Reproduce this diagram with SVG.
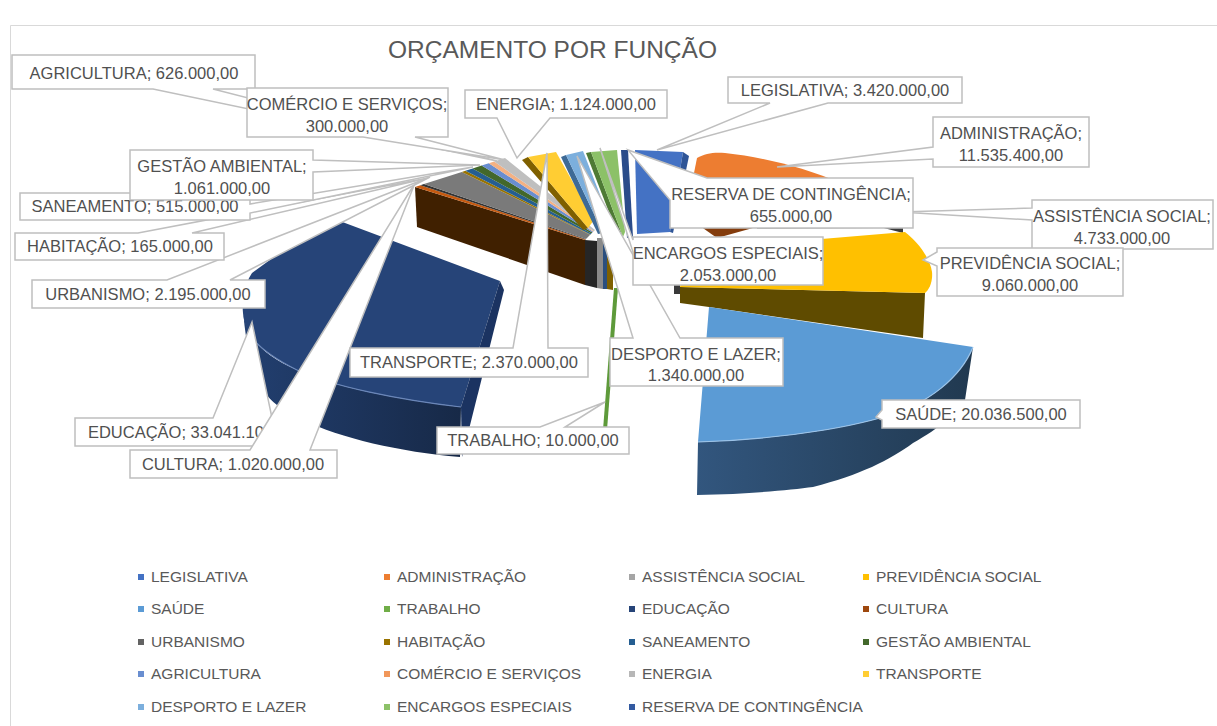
<svg xmlns="http://www.w3.org/2000/svg" width="1217" height="726" viewBox="0 0 1217 726">
<defs>
<style>
.co{fill:#fff;stroke:#BFBFBF;stroke-width:1.5;stroke-linejoin:miter}
.lt{font-family:'Liberation Sans',Arial,sans-serif;font-size:16.5px;fill:#505050;text-anchor:middle}
.lg{font-family:'Liberation Sans',Arial,sans-serif;font-size:15.5px;fill:#595959}
.ttl{font-family:'Liberation Sans',Arial,sans-serif;font-size:24.5px;fill:#595959}
.hl{fill:none;stroke-width:1.2}
</style>
<linearGradient id="eduSide" x1="0" y1="0" x2="1" y2="0"><stop offset="0" stop-color="#223F70"/><stop offset="1" stop-color="#172947"/></linearGradient>
<linearGradient id="sauSide" x1="0" y1="0" x2="1" y2="0"><stop offset="0" stop-color="#32567E"/><stop offset="1" stop-color="#213950"/></linearGradient>
</defs>
<rect width="1217" height="726" fill="#fff"/>
<path d="M10.5,726 V25.5 H1217" fill="none" stroke="#D9D9D9"/>
<text class="ttl" x="388" y="58">ORÇAMENTO POR FUNÇÃO</text>

<g id="slices">
<g id="slice-educacao">
<path fill="url(#eduSide)" d="M243,305 C243,330 255,352 297,370 C330,386 400,400 461,407 L460,457 C400,452 340,438 303,420 C280,410 262,395 258,380 C250,360 244,335 243,305 Z"/>
<path fill="#264478" d="M329,217 L500,281 L461,407 C400,400 330,386 297,370 C275,359 258,347 250,335 C243,323 242,310 243,300 C244,288 248,279 252,273 Z"/>
<path class="hl" stroke="#6A86B8" d="M461,407 C400,400 330,386 297,370 C275,359 258,347 250,335"/>
<path fill="#1B3361" d="M500,281 L504,290 L462,457 L461,407 Z"/>
</g>
<g id="slice-cultura">
<path fill="#402000" d="M415,187 L585,240 L585,285 L417,227 Z"/>
<path fill="#C55A11" d="M415,187 L420.4,185.3 L585.6,239.4 L585,240 Z"/>
</g>
<g id="slice-urbanismo">
<path fill="#333333" d="M420.4,185.3 L424,184.1 L586,239 L585.6,239.4 Z"/>
<path fill="#7A7A7A" d="M424,184.1 L461.8,171.9 L590.2,234.8 L586,239 Z"/>
<path fill="#262626" d="M585,240 L597,241 L597,288 L585,285 Z"/>
<path fill="#8A8A8A" d="M597,238 L603,238 L603,289 L597,288 Z"/>
</g>
<g id="slice-habitacao">
<path fill="#997300" d="M461.8,171.9 L465.4,170.8 L590.6,234.4 L590.2,234.8 Z"/>
<path fill="#7F6000" d="M607,255 L613,257 L613,290 L607,289 Z"/>
</g>
<g id="slice-saneamento">
<path fill="#255E91" d="M465.4,170.8 L472.6,168.4 L591.4,233.6 L590.6,234.4 Z"/>
<path fill="#2B4F7E" d="M603,237 L607,237 L607,289 L603,289 Z"/>
</g>
<g id="slice-gestao">
<path fill="#43682B" d="M472.6,168.4 L481.6,165.5 L592.4,232.6 L591.4,233.6 Z"/>
</g>
<g id="slice-agricultura">
<path fill="#698ED0" d="M481.6,165.5 L488.8,163.2 L593.2,231.8 L592.4,232.6 Z"/>
</g>
<g id="slice-comercio">
<path fill="#F4B183" d="M488.8,163.2 L494.2,161.5 L593.8,231.2 L593.2,231.8 Z"/>
</g>
<g id="slice-energia">
<path fill="#BFBFBF" d="M494.2,161.5 L505,158 L595,230 L593.8,231.2 Z"/>
</g>
<g id="slice-transporte">
<path fill="#7F6000" d="M522,160 L528,157 L588,228 L583,230 Z"/>
<path fill="#FFCD33" d="M528,157 L556,152 L594,220 L588,228 Z"/>
</g>
<g id="slice-desporto">
<path fill="#3E6A96" d="M561,157 L566,155 L603,233 L598,234 Z"/>
<path fill="#7CAFDD" d="M566,155 L583,151 L613,228 L603,233 Z"/>
</g>
<g id="slice-encargos">
<path fill="#4E7A35" d="M586,153 L591,152 L623,237 L619,238 Z"/>
<path fill="#8CC168" d="M591,152 L617,150 L625,232 L623,237 Z"/>
</g>
<g id="slice-reserva">
<path fill="#2B4C8A" d="M621,150 L628,150 L633,237 L627,238 Z"/>
</g>
<g id="slice-legislativa">
<path fill="#4472C4" d="M635,150 L683,152 L670,232 L637,234 Z"/>
<path fill="#2F5597" d="M683,152 L689,156 L673,233 L670,232 Z"/>
</g>
<g id="slice-administracao">
<path fill="#ED7D31" d="M693,178 L697,158 C705,153 715,152 725,153 C790,160 860,185 905,218 L903,228 L700,228 Z"/>
<path fill="#843C0C" d="M700,226 L760,226 L717,238 Z"/>
</g>
<g id="slice-assistencia">
<path fill="#A5A5A5" d="M757,226 L895,222 L897,228 L757,229 Z"/>
<path fill="#3A3A3A" d="M880,227 L903,226 L903,233 Z"/>
<path fill="#3A3A3A" d="M674,281 L680,281 L680,294 L674,294 Z"/>
</g>
<g id="slice-previdencia">
<path fill="#5F4B00" d="M680,287 L925,293 L923,338 L709,307 L680,303 Z"/>
<path fill="#FFC000" d="M690,250 L905,232 C918,242 930,258 932,272 C933,282 929,290 925,293 L680,287 Z"/>
</g>
<g id="slice-saude">
<path fill="url(#sauSide)" d="M973,347 C962,375 930,405 880,418 C830,432 760,440 698,442 L697,495 C750,494 790,490 813,487 C860,475 890,460 913,443 C940,428 958,412 965,400 Z"/>
<path fill="#5B9BD5" d="M709,307 L973,347 C962,375 930,405 880,418 C830,432 760,440 698,442 Z"/>
<path class="hl" stroke="#9CC3E8" d="M973,347 C962,375 930,405 880,418 C830,432 760,440 698,442"/>
</g>
<g id="slice-trabalho">
<path fill="#5E9A3A" d="M614,288 L618,288 L607,430 L603,430 Z"/>
</g>
</g>

<g id="label-legislativa"><path class="co" d="M728,77 H962 V103 H828 L657,150 L770,103 H728 Z"/><text class="lt" x="845" y="96">LEGISLATIVA; 3.420.000,00</text></g>
<g id="label-administracao"><path class="co" d="M933,117 H1089 V167 H933 V159 L777,167 L933,147 Z"/><text class="lt" x="1011" y="139">ADMINISTRAÇÃO;</text><text class="lt" x="1011" y="161">11.535.400,00</text></g>
<g id="label-assistencia"><path class="co" d="M1032,200 H1213 V249 H1032 V220 L900,212 L1032,208 Z"/><text class="lt" x="1122" y="222">ASSISTÊNCIA SOCIAL;</text><text class="lt" x="1122" y="244">4.733.000,00</text></g>
<g id="label-previdencia"><path class="co" d="M937,248 H1123 V296 H937 V266 L923,260 L937,252 Z"/><text class="lt" x="1030" y="269">PREVIDÊNCIA SOCIAL;</text><text class="lt" x="1030" y="291">9.060.000,00</text></g>
<g id="label-saude"><path class="co" d="M882,400 H1080 V428 H882 V420 L876,417 L882,410 Z"/><text class="lt" x="981" y="420">SAÚDE; 20.036.500,00</text></g>
<g id="label-trabalho"><path class="co" d="M437,427 H540 L605,402 L565,427 H629 V454 H437 Z"/><text class="lt" x="533" y="446">TRABALHO; 10.000,00</text></g>
<g id="label-educacao"><path class="co" d="M75,418 H213 L252,322 L272,418 H310 V446 H75 Z"/><text class="lt" x="192" y="438">EDUCAÇÃO; 33.041.100,00</text></g>
<g id="label-cultura"><path class="co" d="M130,450 H250 L415,183 L310,450 H337 V478 H130 Z"/><text class="lt" x="233" y="470">CULTURA; 1.020.000,00</text></g>
<g id="label-urbanismo"><path class="co" d="M32,280 H167 L430,177 L230,280 H265 V308 H32 Z"/><text class="lt" x="148" y="300">URBANISMO; 2.195.000,00</text></g>
<g id="label-habitacao"><path class="co" d="M15,233 H138 L428,178 L192,233 H224 V260 H15 Z"/><text class="lt" x="120" y="252">HABITAÇÃO; 165.000,00</text></g>
<g id="label-saneamento"><path class="co" d="M20,193 H250 V204 L473,167 L250,213 V220 H20 Z"/><text class="lt" x="135" y="212">SANEAMENTO; 515.000,00</text></g>
<g id="label-gestao"><path class="co" d="M130,150 H313 V160 L480,165 L313,172 V200 H130 Z"/><text class="lt" x="222" y="172">GESTÃO AMBIENTAL;</text><text class="lt" x="222" y="194">1.061.000,00</text></g>
<g id="label-agricultura"><path class="co" d="M12,55 H255 V89 H213 L497,161 L153,89 H12 Z"/><text class="lt" x="134" y="79">AGRICULTURA; 626.000,00</text></g>
<g id="label-comercio"><path class="co" d="M247,88 H448 V137 H415 L505,160 L363,137 H247 Z"/><text class="lt" x="347" y="110">COMÉRCIO E SERVIÇOS;</text><text class="lt" x="347" y="132">300.000,00</text></g>
<g id="label-energia"><path class="co" d="M465,90 H667 V118 H550 L517,158 L497,118 H465 Z"/><text class="lt" x="566" y="110">ENERGIA; 1.124.000,00</text></g>
<g id="label-transporte"><path class="co" d="M350,348 H513 L547,153 L548,348 H588 V377 H350 Z"/><text class="lt" x="469" y="368">TRANSPORTE; 2.370.000,00</text></g>
<g id="label-desporto"><path class="co" d="M610,338 H633 L577,156 L680,338 H783 V386 H610 Z"/><text class="lt" x="696" y="360">DESPORTO E LAZER;</text><text class="lt" x="696" y="381">1.340.000,00</text></g>
<g id="label-encargos"><path class="co" d="M633,237 H823 V285 H633 V252 L600,148 L633,240 Z"/><text class="lt" x="728" y="259">ENCARGOS ESPECIAIS;</text><text class="lt" x="728" y="281">2.053.000,00</text></g>
<g id="label-reserva"><path class="co" d="M707,178 H913 V228 H670 V200 L628,150 Z"/><text class="lt" x="791" y="200">RESERVA DE CONTINGÊNCIA;</text><text class="lt" x="791" y="222">655.000,00</text></g>

<g id="legend">
<g id="lg-legislativa"><rect x="138" y="574" width="6" height="6" fill="#4472C4"/><text class="lg" x="151" y="582">LEGISLATIVA</text></g>
<g id="lg-administracao"><rect x="384" y="574" width="6" height="6" fill="#ED7D31"/><text class="lg" x="397" y="582">ADMINISTRAÇÃO</text></g>
<g id="lg-assistencia"><rect x="629" y="574" width="6" height="6" fill="#A5A5A5"/><text class="lg" x="642" y="582">ASSISTÊNCIA SOCIAL</text></g>
<g id="lg-previdencia"><rect x="863" y="574" width="6" height="6" fill="#FFC000"/><text class="lg" x="876" y="582">PREVIDÊNCIA SOCIAL</text></g>
<g id="lg-saude"><rect x="138" y="606" width="6" height="6" fill="#5B9BD5"/><text class="lg" x="151" y="614">SAÚDE</text></g>
<g id="lg-trabalho"><rect x="384" y="606" width="6" height="6" fill="#70AD47"/><text class="lg" x="397" y="614">TRABALHO</text></g>
<g id="lg-educacao"><rect x="629" y="606" width="6" height="6" fill="#264478"/><text class="lg" x="642" y="614">EDUCAÇÃO</text></g>
<g id="lg-cultura"><rect x="863" y="606" width="6" height="6" fill="#9E480E"/><text class="lg" x="876" y="614">CULTURA</text></g>
<g id="lg-urbanismo"><rect x="138" y="639" width="6" height="6" fill="#636363"/><text class="lg" x="151" y="647">URBANISMO</text></g>
<g id="lg-habitacao"><rect x="384" y="639" width="6" height="6" fill="#997300"/><text class="lg" x="397" y="647">HABITAÇÃO</text></g>
<g id="lg-saneamento"><rect x="629" y="639" width="6" height="6" fill="#255E91"/><text class="lg" x="642" y="647">SANEAMENTO</text></g>
<g id="lg-gestao"><rect x="863" y="639" width="6" height="6" fill="#43682B"/><text class="lg" x="876" y="647">GESTÃO AMBIENTAL</text></g>
<g id="lg-agricultura"><rect x="138" y="671" width="6" height="6" fill="#698ED0"/><text class="lg" x="151" y="679">AGRICULTURA</text></g>
<g id="lg-comercio"><rect x="384" y="671" width="6" height="6" fill="#F1975A"/><text class="lg" x="397" y="679">COMÉRCIO E SERVIÇOS</text></g>
<g id="lg-energia"><rect x="629" y="671" width="6" height="6" fill="#B7B7B7"/><text class="lg" x="642" y="679">ENERGIA</text></g>
<g id="lg-transporte"><rect x="863" y="671" width="6" height="6" fill="#FFCD33"/><text class="lg" x="876" y="679">TRANSPORTE</text></g>
<g id="lg-desporto"><rect x="138" y="704" width="6" height="6" fill="#7CAFDD"/><text class="lg" x="151" y="712">DESPORTO E LAZER</text></g>
<g id="lg-encargos"><rect x="384" y="704" width="6" height="6" fill="#8CC168"/><text class="lg" x="397" y="712">ENCARGOS ESPECIAIS</text></g>
<g id="lg-reserva"><rect x="629" y="704" width="6" height="6" fill="#335AA1"/><text class="lg" x="642" y="712">RESERVA DE CONTINGÊNCIA</text></g>
</g>
</svg>
